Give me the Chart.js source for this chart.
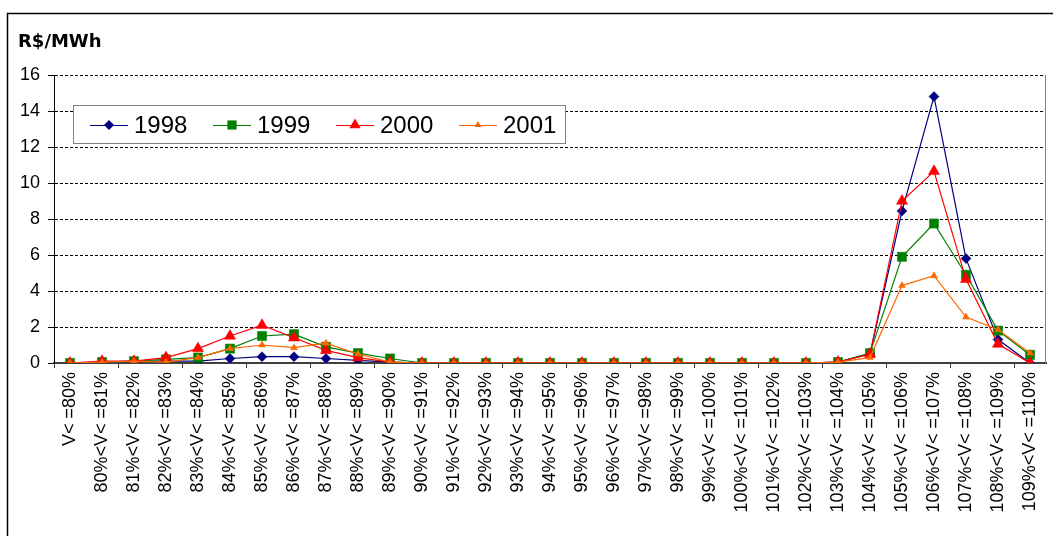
<!DOCTYPE html>
<html>
<head>
<meta charset="utf-8">
<script src="https://cdn.jsdelivr.net/npm/chart.js@4/dist/chart.umd.min.js"></script>
<style>
  html, body { margin: 0; padding: 0; background: #fff; }
  canvas { display: block; }
</style>
</head>
<body>
<canvas id="c" width="1053" height="536"></canvas>
<script>
// Voltage bands (share of nominal voltage)
const categories = [
  'V< =80%', '80%<V< =81%', '81%<V< =82%', '82%<V< =83%', '83%<V< =84%',
  '84%<V< =85%', '85%<V< =86%', '86%<V< =87%', '87%<V< =88%', '88%<V< =89%',
  '89%<V< =90%', '90%<V< =91%', '91%<V< =92%', '92%<V< =93%', '93%<V< =94%',
  '94%<V< =95%', '95%<V< =96%', '96%<V< =97%', '97%<V< =98%', '98%<V< =99%',
  '99%<V< =100%', '100%<V< =101%', '101%<V< =102%', '102%<V< =103%', '103%<V< =104%',
  '104%<V< =105%', '105%<V< =106%', '106%<V< =107%', '107%<V< =108%', '108%<V< =109%',
  '109%<V< =110%'
];

// R$/MWh per year
const y1998 = [0, 0.05, 0.1, 0.1, 0.1, 0.25, 0.35, 0.35, 0.25, 0.15, 0.05,
  0, 0, 0, 0, 0, 0, 0, 0, 0, 0, 0, 0, 0,
  0.05, 0.5, 8.45, 14.8, 5.8, 1.3, 0];
const y1999 = [0, 0.05, 0.1, 0.2, 0.3, 0.8, 1.5, 1.6, 0.9, 0.55, 0.25,
  0, 0, 0, 0, 0, 0, 0, 0, 0, 0, 0, 0, 0,
  0.05, 0.55, 5.9, 7.75, 4.9, 1.8, 0.45];
const y2000 = [0, 0.1, 0.1, 0.3, 0.8, 1.5, 2.1, 1.4, 0.7, 0.3, 0.05,
  0, 0, 0, 0, 0, 0, 0, 0, 0, 0, 0, 0, 0,
  0.05, 0.5, 9.0, 10.65, 4.65, 1.05, 0];
const y2001 = [0, 0.05, 0.1, 0.05, 0.3, 0.8, 1.0, 0.85, 1.1, 0.5, 0.05,
  0, 0, 0, 0, 0, 0, 0, 0, 0, 0, 0, 0, 0,
  0.05, 0.3, 4.3, 4.85, 2.55, 1.85, 0.55];

const yTicks = { min: 0, max: 16, step: 2 };
const unitLabel = 'R$/MWh';

const series = [
  { label: '1998', data: y1998, color: '#000080', style: 'rectRot', r: 5, order: 4 },
  { label: '1999', data: y1999, color: '#008000', style: 'rect', r: 6.5, order: 3 },
  { label: '2000', data: y2000, color: '#FF0000', style: 'triangle', r: 6.5, order: 2 },
  { label: '2001', data: y2001, color: '#FF6600', style: 'triangle', r: 4, order: 1 }
];

const FONT = "'Liberation Sans', Arial, sans-serif";

function drawMarker(ctx, style, x, y, r, color) {
  ctx.save();
  ctx.fillStyle = color;
  ctx.beginPath();
  if (style === 'rectRot') {
    ctx.moveTo(x, y - r); ctx.lineTo(x + r, y); ctx.lineTo(x, y + r); ctx.lineTo(x - r, y);
  } else if (style === 'rect') {
    const s = Math.SQRT1_2 * r;
    ctx.rect(x - s, y - s, 2 * s, 2 * s);
  } else {
    const a = 2 * Math.PI / 3;
    ctx.moveTo(x, y - r);
    ctx.lineTo(x + Math.sin(a) * r, y - Math.cos(a) * r);
    ctx.lineTo(x + Math.sin(2 * a) * r, y - Math.cos(2 * a) * r);
  }
  ctx.closePath();
  ctx.fill();
  ctx.restore();
}

const framePlugin = {
  id: 'frame',
  beforeDraw(chart) {
    const ctx = chart.ctx;
    ctx.save();
    ctx.fillStyle = '#fff';
    ctx.fillRect(0, 0, chart.width, chart.height);
    ctx.strokeStyle = '#000';
    ctx.lineWidth = 1.5;
    ctx.strokeRect(7.5, 13.5, 1100, 600);
    ctx.fillStyle = '#000';
    ctx.font = "bold 18px 'DejaVu Sans', sans-serif";
    ctx.textBaseline = 'alphabetic';
    ctx.fillText(unitLabel, 18, 47);
    ctx.restore();
  },
  afterDraw(chart) {
    const ctx = chart.ctx;
    const a = chart.chartArea;
    ctx.save();
    // right edge of plot area
    ctx.strokeStyle = '#808080';
    ctx.lineWidth = 1;
    ctx.beginPath();
    ctx.moveTo(Math.round(a.right) - 0.5, a.top);
    ctx.lineTo(Math.round(a.right) - 0.5, a.bottom);
    ctx.stroke();

    // legend box
    const bx = 73.5, by = 105.5, bw = 492, bh = 38;
    ctx.fillStyle = '#fff';
    ctx.fillRect(bx, by, bw, bh);
    ctx.strokeStyle = '#808080';
    ctx.strokeRect(bx, by, bw, bh);
    const cy = 125;
    ctx.font = '24px ' + FONT;
    ctx.textBaseline = 'middle';
    series.forEach((s, i) => {
      const x0 = 90 + i * 123;
      ctx.strokeStyle = s.color;
      ctx.lineWidth = 1;
      ctx.beginPath();
      ctx.moveTo(x0, cy + 0.5);
      ctx.lineTo(x0 + 38, cy + 0.5);
      ctx.stroke();
      drawMarker(ctx, s.style, x0 + 19, cy, s.r, s.color);
      ctx.fillStyle = '#000';
      ctx.fillText(s.label, x0 + 44, cy + 1);
    });
    ctx.restore();
  }
};

new Chart(document.getElementById('c'), {
  type: 'line',
  data: {
    labels: categories,
    datasets: series.map(s => ({
      label: s.label,
      data: s.data,
      borderColor: s.color,
      backgroundColor: s.color,
      pointBackgroundColor: s.color,
      pointBorderColor: s.color,
      pointBorderWidth: 0.5,
      pointStyle: s.style,
      pointRadius: s.r,
      pointHoverRadius: s.r,
      borderWidth: 1.2,
      tension: 0,
      fill: false,
      order: s.order
    }))
  },
  options: {
    responsive: false,
    devicePixelRatio: 1,
    animation: false,
    events: [],
    layout: { padding: { top: 75, right: 3, left: 0, bottom: 0 } },
    plugins: { legend: { display: false }, tooltip: { enabled: false } },
    scales: {
      x: {
        offset: true,
        grid: {
          display: true,
          offset: true,
          drawOnChartArea: false,
          drawTicks: true,
          tickLength: 5,
          tickColor: (c) => (c.index % 2 === 0 && c.index < categories.length) ? '#404040' : 'rgba(0,0,0,0)'
        },
        border: { display: true, color: '#404040', width: 2 },
        ticks: {
          autoSkip: false,
          maxRotation: 90,
          minRotation: 90,
          padding: 4,
          color: '#000',
          font: { family: FONT, size: 18 }
        },
        afterFit: (scale) => {
          scale.height = 173;
          scale.paddingLeft = 0;
          scale.paddingRight = 0;
        }
      },
      y: {
        min: yTicks.min,
        max: yTicks.max,
        ticks: {
          stepSize: yTicks.step,
          padding: 8,
          color: '#000',
          font: { family: FONT, size: 18 }
        },
        grid: {
          color: '#000',
          lineWidth: 1,
          drawTicks: true,
          tickLength: 6,
          tickColor: '#000',
          tickBorderDash: []
        },
        border: { display: true, color: '#000', width: 1, dash: [3, 2] },
        afterFit: (scale) => {
          scale.width = 54;
          scale.paddingTop = 0;
          scale.paddingBottom = 0;
        }
      }
    }
  },
  plugins: [framePlugin]
});
</script>
</body>
</html>
